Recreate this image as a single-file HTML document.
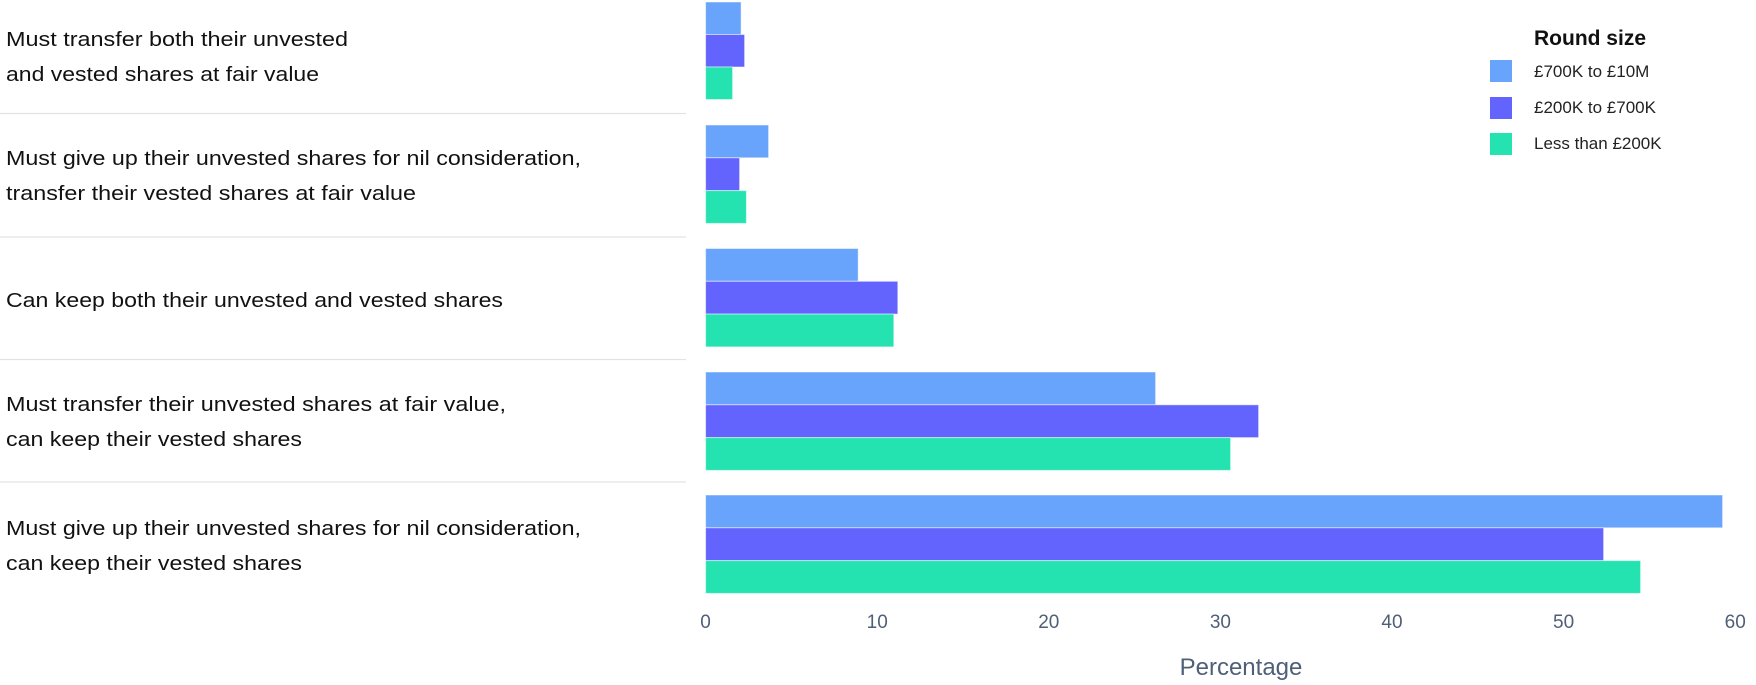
<!DOCTYPE html>
<html><head><meta charset="utf-8"><style>
html,body{margin:0;padding:0;background:#fff;}
svg{display:block;font-family:"Liberation Sans",sans-serif;}
</style></head><body>
<svg width="1756" height="685" viewBox="0 0 1756 685" xmlns="http://www.w3.org/2000/svg">
<g stroke="#e3e3e3" stroke-width="1.2">
<line x1="0" y1="113.5" x2="686" y2="113.5"/>
<line x1="0" y1="237" x2="686" y2="237"/>
<line x1="0" y1="359.5" x2="686" y2="359.5"/>
<line x1="0" y1="482" x2="686" y2="482"/>
</g>
<g stroke="#ffffff" stroke-opacity="0.5" stroke-width="1">
<!-- group1 -->
<rect x="705.6" y="2" width="35.5" height="32.5" fill="#68a4fb"/>
<rect x="705.6" y="34.5" width="39" height="32.5" fill="#6363fe"/>
<rect x="705.6" y="67" width="27" height="32.5" fill="#25e3b0"/>
<!-- group2 -->
<rect x="705.6" y="125" width="63" height="32.8" fill="#68a4fb"/>
<rect x="705.6" y="157.8" width="34" height="32.8" fill="#6363fe"/>
<rect x="705.6" y="190.6" width="40.8" height="32.8" fill="#25e3b0"/>
<!-- group3 -->
<rect x="705.6" y="248.5" width="152.6" height="32.8" fill="#68a4fb"/>
<rect x="705.6" y="281.3" width="192.2" height="32.8" fill="#6363fe"/>
<rect x="705.6" y="314.1" width="188.2" height="32.8" fill="#25e3b0"/>
<!-- group4 -->
<rect x="705.6" y="372" width="450" height="32.8" fill="#68a4fb"/>
<rect x="705.6" y="404.8" width="553" height="32.8" fill="#6363fe"/>
<rect x="705.6" y="437.6" width="525" height="32.8" fill="#25e3b0"/>
<!-- group5 -->
<rect x="705.6" y="495" width="1017" height="32.8" fill="#68a4fb"/>
<rect x="705.6" y="527.8" width="898" height="32.8" fill="#6363fe"/>
<rect x="705.6" y="560.6" width="935" height="32.8" fill="#25e3b0"/>
</g>
<g font-size="20" fill="#111">
<text x="6" y="46" textLength="342" lengthAdjust="spacingAndGlyphs">Must transfer both their unvested</text>
<text x="6" y="81" textLength="313" lengthAdjust="spacingAndGlyphs">and vested shares at fair value</text>
<text x="6" y="165" textLength="575" lengthAdjust="spacingAndGlyphs">Must give up their unvested shares for nil consideration,</text>
<text x="6" y="200" textLength="410" lengthAdjust="spacingAndGlyphs">transfer their vested shares at fair value</text>
<text x="6" y="307" textLength="497" lengthAdjust="spacingAndGlyphs">Can keep both their unvested and vested shares</text>
<text x="6" y="411" textLength="500" lengthAdjust="spacingAndGlyphs">Must transfer their unvested shares at fair value,</text>
<text x="6" y="446" textLength="296" lengthAdjust="spacingAndGlyphs">can keep their vested shares</text>
<text x="6" y="535" textLength="575" lengthAdjust="spacingAndGlyphs">Must give up their unvested shares for nil consideration,</text>
<text x="6" y="570" textLength="296" lengthAdjust="spacingAndGlyphs">can keep their vested shares</text>
</g>
<g font-size="19" fill="#4f5f78" text-anchor="middle">
<text x="705.6" y="628">0</text>
<text x="877.2" y="628">10</text>
<text x="1048.8" y="628">20</text>
<text x="1220.4" y="628">30</text>
<text x="1392" y="628">40</text>
<text x="1563.6" y="628">50</text>
<text x="1735.2" y="628">60</text>
<text x="1241" y="675" font-size="24">Percentage</text>
</g>
<text x="1534" y="45" font-size="21" font-weight="bold" fill="#111">Round size</text>
<rect x="1490" y="60" width="22" height="22" fill="#68a4fb"/>
<rect x="1490" y="97" width="22" height="22" fill="#6363fe"/>
<rect x="1490" y="133" width="22" height="22" fill="#25e3b0"/>
<g font-size="17" fill="#222">
<text x="1534" y="77">£700K to £10M</text>
<text x="1534" y="113">£200K to £700K</text>
<text x="1534" y="149">Less than £200K</text>
</g>
</svg>
</body></html>
